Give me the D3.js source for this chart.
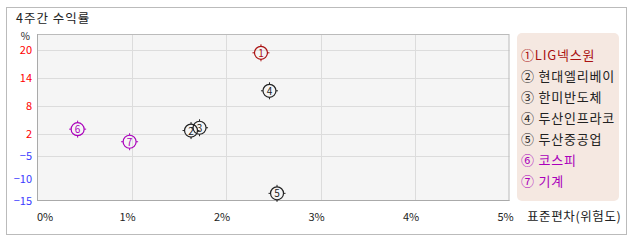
<!DOCTYPE html>
<html><head><meta charset="utf-8">
<script src="https://cdn.jsdelivr.net/npm/d3@7"></script>
<style>
html,body{margin:0;padding:0;background:#fff;}
text{font-family:"Noto Sans CJK KR","Noto Sans",sans-serif;}
</style></head>
<body>
<svg id="c" width="638" height="242"></svg>
<script>
const names = ["LIG넥스원","현대엘리베이","한미반도체","두산인프라코","두산중공업","코스피","기계"];
const marks = ["①","②","③","④","⑤","⑥","⑦"];
const risk = [2.37, 1.63, 1.72, 2.46, 2.54, 0.43, 0.98];
const ret = [19.4, 2.8, 3.4, 11.3, -13.3, 3.1, -0.4];
const colors = ["#aa1111","#222222","#222222","#222222","#222222","#aa00bb","#aa00bb"];
const yTicks = [20, 14, 8, 2, -5, -10, -15];
const yGrid = [20, 14, 8, 2, -5];
const xTicks = [0, 1, 2, 3, 4, 5];

const svg = d3.select("#c");
svg.append("rect").attr("x",6.5).attr("y",7.5).attr("width",620).attr("height",227)
  .attr("fill","#fff").attr("stroke","#bbb");
svg.append("text").attr("x",16).attr("y",22.5).attr("font-size",12.5).attr("letter-spacing",1)
  .attr("fill","#222").text("4주간 수익률");

const L=37, R=509.5, T=34, B=201;
const x = d3.scaleLinear().domain([0,5]).range([L,R]);
const y = d3.scaleLinear().domain([-15,-10,-5,2,8,14,20]).range([201,178.5,156,134.3,106.2,78.2,50]);

svg.append("rect").attr("x",L).attr("y",T).attr("width",R-L).attr("height",B-T).attr("fill","#f5f5f5");
const g = svg.append("g");
g.selectAll(".gy").data(yGrid).join("line")
  .attr("x1",L).attr("x2",R).attr("y1",d=>Math.round(y(d))+0.5).attr("y2",d=>Math.round(y(d))+0.5)
  .attr("stroke","#dcdcdc");
g.selectAll(".gx").data(xTicks.slice(1,-1)).join("line")
  .attr("y1",T).attr("y2",B).attr("x1",d=>Math.round(x(d))+0.5).attr("x2",d=>Math.round(x(d))+0.5)
  .attr("stroke","#dcdcdc");
svg.append("rect").attr("x",L+0.5).attr("y",T+0.5).attr("width",R-L-1).attr("height",B-T-1)
  .attr("fill","none").attr("stroke","#bbb");
svg.append("line").attr("x1",L+0.5).attr("x2",L+0.5).attr("y1",T).attr("y2",B).attr("stroke","#aaa");
svg.append("line").attr("x1",L).attr("x2",R).attr("y1",B-0.5).attr("y2",B-0.5).attr("stroke","#aaa");

svg.append("text").attr("x",30).attr("y",39.5).attr("text-anchor","end").attr("font-size",10).attr("fill","#222").text("%");
svg.selectAll(".yl").data(yTicks).join("text")
  .attr("x",32).attr("y",d=>y(d)+4).attr("text-anchor","end").attr("font-size",11)
  .attr("fill",d=>d>0?"#ff0000":"#3b3bff").text(d=>d<0?"−"+Math.abs(d):d);
svg.selectAll(".xl").data(xTicks).join("text")
  .attr("x",d=>d===0?x(d):x(d)-4).attr("y",221).attr("text-anchor",d=>d===0?"start":"middle")
  .attr("font-size",11).attr("fill","#222").text(d=>d+"%");
svg.append("text").attr("x",527).attr("y",221).attr("font-size",12.5).attr("letter-spacing",0.6)
  .attr("fill","#222").text("표준편차(위험도)");

const pts = svg.selectAll(".pt").data(names.map((n,i)=>i)).join("g")
  .attr("transform",i=>`translate(${x(risk[i])},${y(ret[i])})`);
pts.append("circle").attr("r",6.5).attr("fill","none").attr("stroke",i=>colors[i]).attr("stroke-width",1.2);
[[0,-6.5,0,-8.5],[0,6.5,0,8.5],[-6.5,0,-8.5,0],[6.5,0,8.5,0]].forEach(s=>{
  pts.append("line").attr("x1",s[0]).attr("y1",s[1]).attr("x2",s[2]).attr("y2",s[3]).attr("stroke",i=>colors[i]);
});
pts.append("text").attr("text-anchor","middle").attr("y",4).attr("font-size",10)
  .attr("fill",i=>colors[i]).text(i=>i+1);

svg.append("rect").attr("x",517).attr("y",33).attr("width",102).attr("height",168).attr("rx",5)
  .attr("fill","#f5e8e1");
svg.selectAll(".lg").data(names.map((n,i)=>i)).join("text")
  .attr("x",521).attr("y",i=>59.5+i*21.1).attr("font-size",13).attr("letter-spacing",0.8)
  .attr("fill",i=>colors[i])
  .text(i=>marks[i]+(i===0?"":" ")+names[i]);
</script>
</body></html>
